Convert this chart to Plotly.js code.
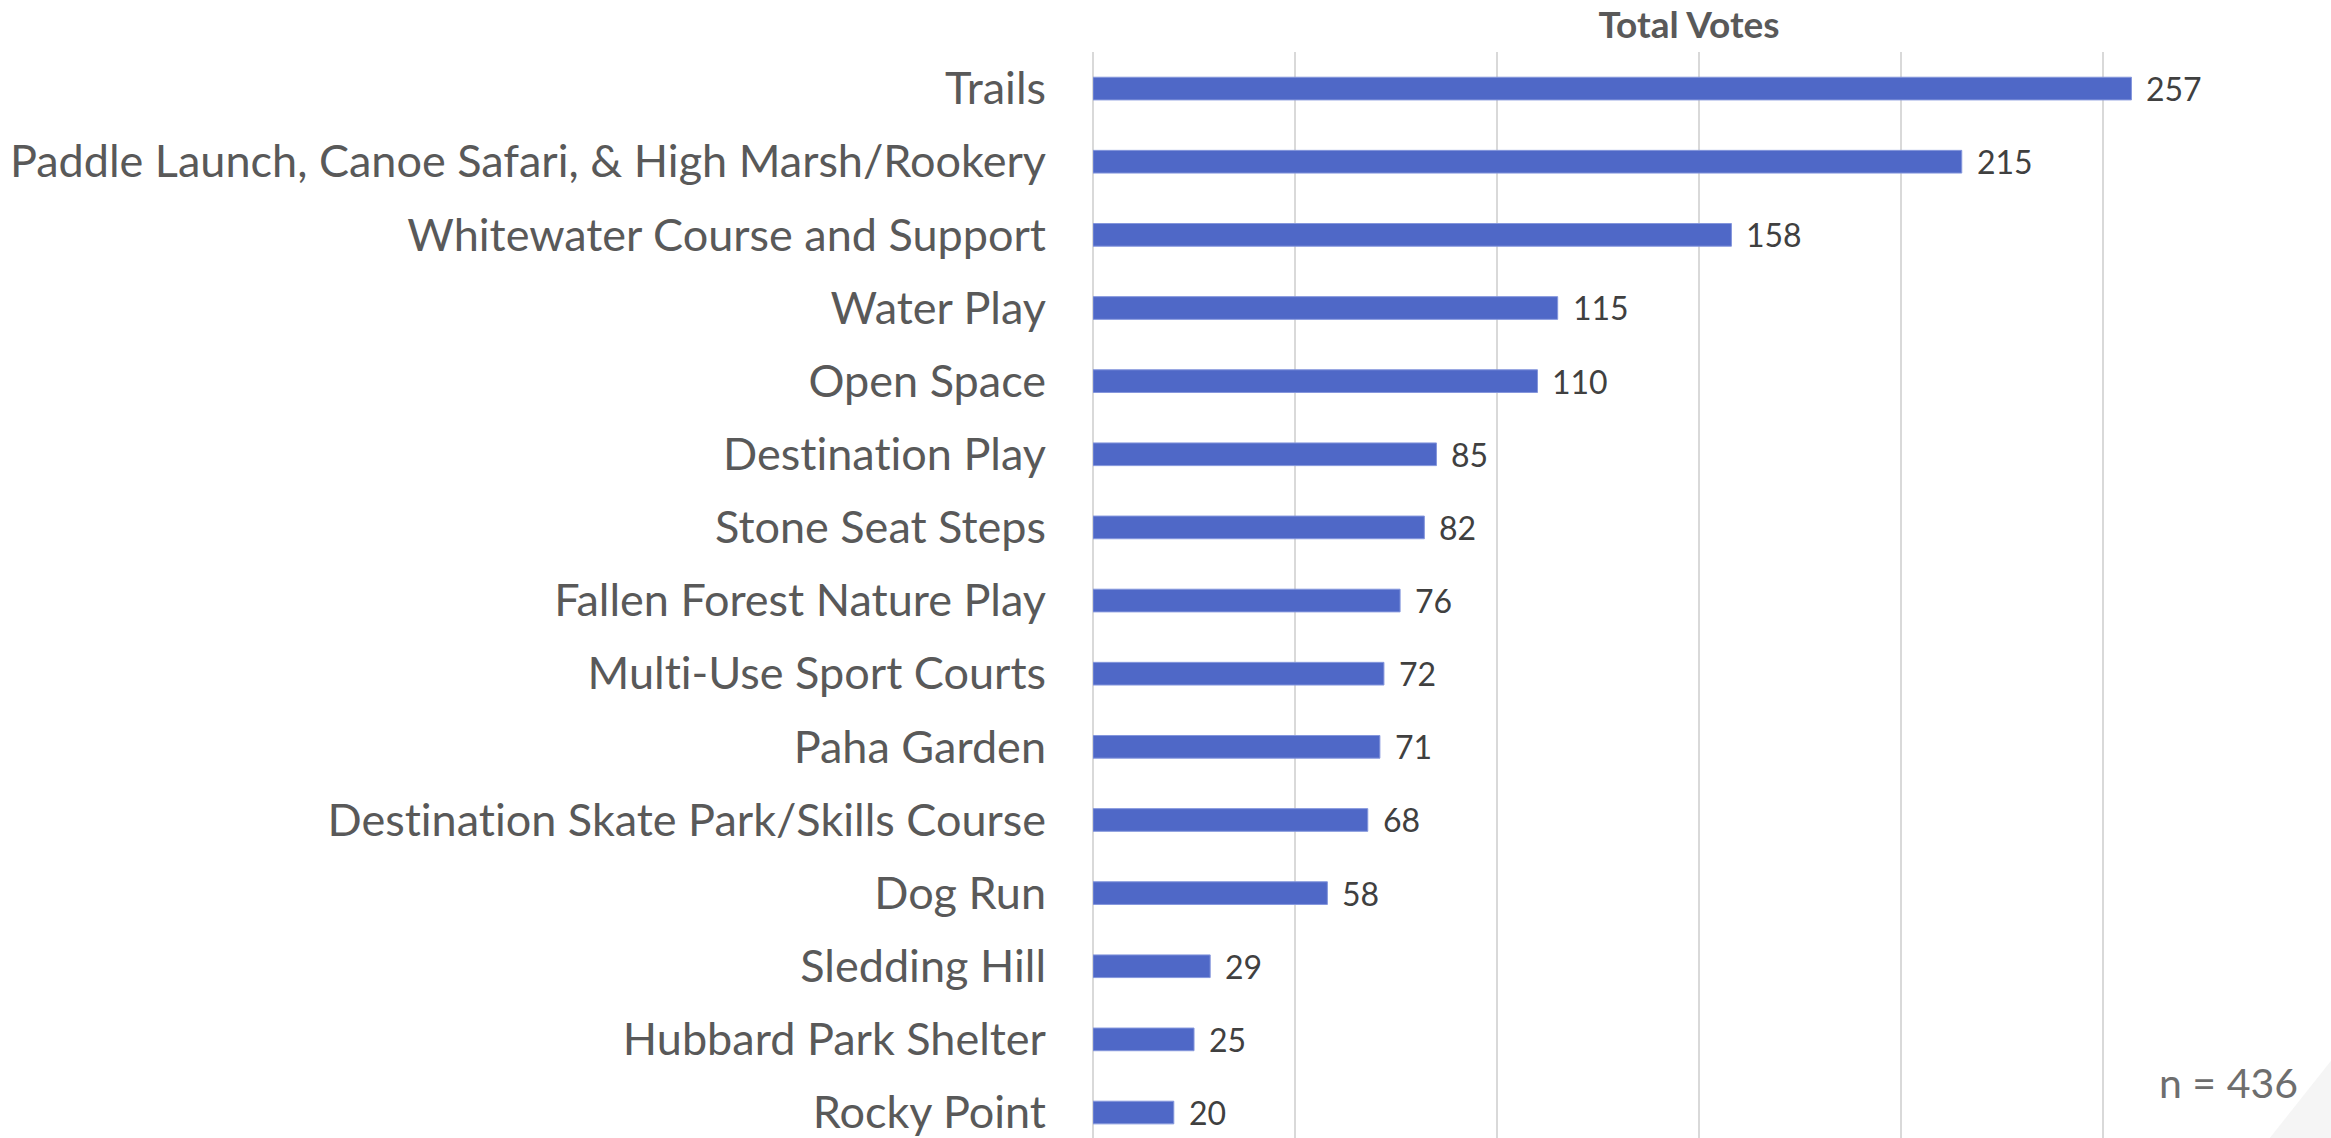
<!DOCTYPE html>
<html>
<head>
<meta charset="utf-8">
<script src="https://cdn.plot.ly/plotly-3.0.1.min.js"></script>
<style>
html,body{margin:0;padding:0;background:#fff;}
#chart{width:2331px;height:1138px;}
svg text{font-variant-ligatures:none;font-feature-settings:"liga" 0;}
</style>
</head>
<body>
<div id="chart"></div>
<script>
const categories = [
  "Trails",
  "Paddle Launch, Canoe Safari, & High Marsh/Rookery",
  "Whitewater Course and Support",
  "Water Play",
  "Open Space",
  "Destination Play",
  "Stone Seat Steps",
  "Fallen Forest Nature Play",
  "Multi-Use Sport Courts",
  "Paha Garden",
  "Destination Skate Park/Skills Course",
  "Dog Run",
  "Sledding Hill",
  "Hubbard Park Shelter",
  "Rocky Point"
];
const votes = [257, 215, 158, 115, 110, 85, 82, 76, 72, 71, 68, 58, 29, 25, 20];
const chartTitle = "Total Votes";
const sampleNote = "n = 436";

const W = 2331, H = 1138;
const plotLeft = 1093, plotRight = 2285, plotTop = 52;
const catPitch = 73.14;
// range so the plot area runs to the bottom edge of the page
const yRangeBottom = -0.5 + (H - plotTop) / catPitch;

const trace = {
  type: 'bar',
  orientation: 'h',
  x: votes,
  y: categories,
  marker: {color: '#4F68C7', line: {color: '#8496DC', width: 1}},
  hoverinfo: 'skip',
  width: 0.31
};

const annotations = votes.map((v, i) => ({
  x: v, y: categories[i], xref: 'x', yref: 'y',
  text: String(v), showarrow: false, xanchor: 'left', yanchor: 'middle',
  xshift: 13, font: {family: 'Lato, sans-serif', size: 32, color: '#404040'}
}));
annotations.push({
  xref: 'paper', yref: 'paper', x: (2300 - plotLeft) / (plotRight - plotLeft), y: (H - 1082) / (H - plotTop),
  text: sampleNote, showarrow: false, xanchor: 'right', yanchor: 'middle',
  font: {family: 'Lato, sans-serif', size: 41, color: '#6E6E6E'}
});

const layout = {
  width: W, height: H,
  margin: {l: plotLeft, r: W - plotRight, t: plotTop, b: 0, pad: 0},
  paper_bgcolor: '#ffffff', plot_bgcolor: '#ffffff',
  showlegend: false,
  title: {
    text: '<b>' + chartTitle + '</b>',
    font: {family: 'Lato, sans-serif', size: 37, color: '#595959'},
    x: 0.5, xref: 'paper', xanchor: 'center',
    y: 1 - 25 / H, yref: 'container', yanchor: 'middle'
  },
  xaxis: {
    range: [0, 295], dtick: 50, tick0: 0,
    showgrid: true, gridcolor: '#D9D9D9', gridwidth: 2,
    zeroline: true, zerolinecolor: '#D9D9D9', zerolinewidth: 2,
    showticklabels: false, ticks: '', showline: false, fixedrange: true
  },
  yaxis: {
    type: 'category',
    categoryorder: 'array', categoryarray: categories,
    range: [yRangeBottom, -0.5],
    showgrid: false, zeroline: false, showline: false, ticks: '',
    ticklabelstandoff: 46,
    tickfont: {family: 'Lato, sans-serif', size: 45, color: '#595959'},
    fixedrange: true
  },
  annotations: annotations,
  shapes: [{
    type: 'path', xref: 'paper', yref: 'paper',
    path: 'M 1.045 0.08 L 1.04 -0.01 L 0.98 -0.01 Z',
    fillcolor: 'rgba(200,200,200,0.18)', line: {width: 0}, layer: 'below'
  }]
};

Plotly.newPlot('chart', [trace], layout, {displayModeBar: false, staticPlot: true});
</script>
</body>
</html>
